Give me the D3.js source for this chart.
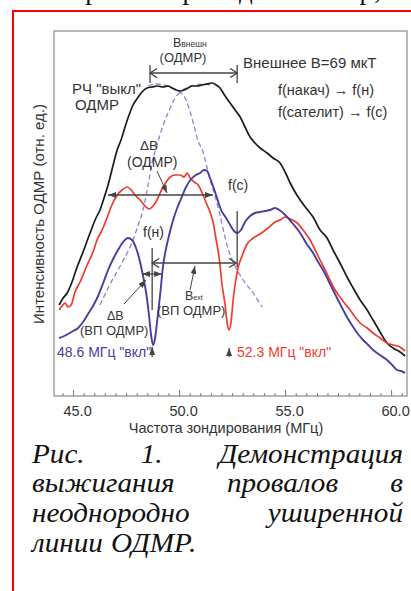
<!DOCTYPE html>
<html>
<head>
<meta charset="utf-8">
<script src="https://cdn.jsdelivr.net/npm/d3@7"></script>
<style>
body { margin: 0; background: #fff; }
svg { display: block; }
text { font-family: "Liberation Sans", Arial, sans-serif; }
.serif { font-family: "Liberation Serif", "Times New Roman", serif; }
</style>
</head>
<body>
<svg id="chart" width="411" height="591"></svg>
<script>
// values: frequency (MHz) and ODMR intensity (rel. units)
let offFreq = [44.34, 44.53, 44.72, 44.95, 45.19, 45.47, 45.80, 46.08, 46.27, 46.46, 46.65, 46.89, 47.08, 47.26, 47.45, 47.64, 47.83, 48.07, 48.25, 48.49, 48.73, 48.96, 49.25, 49.48, 49.67, 49.86, 50.05, 50.24, 50.42, 50.61, 50.85, 51.08, 51.32, 51.56, 51.75, 51.93, 52.17, 52.41, 52.64, 52.88, 53.11, 53.35, 53.58, 53.82, 54.15, 54.43, 54.76, 55.00, 55.24, 55.47, 55.71, 55.99, 56.32, 56.65, 56.98, 57.26, 57.59, 57.92, 58.21, 58.54, 58.87, 59.15, 59.48, 59.81, 60.09, 60.42, 60.66];
let offVal = [0.91, 0.98, 1.03, 1.14, 1.29, 1.44, 1.63, 1.78, 1.86, 1.98, 2.11, 2.31, 2.46, 2.56, 2.69, 2.81, 2.91, 2.99, 3.04, 3.08, 3.09, 3.10, 3.09, 3.10, 3.08, 3.06, 3.05, 3.06, 3.08, 3.10, 3.10, 3.11, 3.12, 3.13, 3.11, 3.08, 3.00, 2.93, 2.86, 2.79, 2.69, 2.59, 2.53, 2.48, 2.43, 2.38, 2.33, 2.24, 2.13, 2.04, 1.96, 1.88, 1.79, 1.66, 1.58, 1.46, 1.33, 1.19, 1.08, 0.96, 0.86, 0.76, 0.64, 0.53, 0.48, 0.44, 0.40];

let satFreq = [44.34, 44.48, 44.62, 44.76, 44.91, 45.09, 45.33, 45.66, 45.94, 46.13, 46.37, 46.60, 46.79, 47.08, 47.31, 47.55, 47.74, 47.92, 48.16, 48.40, 48.58, 48.77, 48.96, 49.15, 49.39, 49.58, 49.81, 50.05, 50.24, 50.38, 50.52, 50.71, 50.90, 51.13, 51.32, 51.46, 51.60, 51.75, 51.89, 52.03, 52.17, 52.26, 52.36, 52.45, 52.55, 52.64, 52.78, 52.97, 53.21, 53.44, 53.82, 54.20, 54.53, 54.76, 55.00, 55.24, 55.57, 55.85, 56.18, 56.42, 56.65, 56.89, 57.12, 57.36, 57.59, 57.83, 58.07, 58.30, 58.54, 58.87, 59.15, 59.48, 59.81, 60.09, 60.42, 60.66];
let satVal = [0.86, 0.90, 0.93, 0.89, 0.91, 1.04, 1.14, 1.31, 1.44, 1.56, 1.66, 1.78, 1.89, 2.01, 2.06, 2.09, 2.06, 2.01, 1.96, 1.90, 1.87, 1.90, 1.96, 2.05, 2.14, 2.19, 2.21, 2.21, 2.19, 2.23, 2.18, 2.14, 2.11, 2.01, 1.91, 1.84, 1.74, 1.56, 1.38, 1.11, 0.91, 0.74, 0.66, 0.74, 0.96, 1.11, 1.28, 1.40, 1.52, 1.57, 1.62, 1.68, 1.74, 1.76, 1.79, 1.77, 1.73, 1.66, 1.56, 1.46, 1.36, 1.26, 1.16, 1.06, 0.99, 0.92, 0.86, 0.79, 0.73, 0.68, 0.63, 0.58, 0.53, 0.51, 0.49, 0.45];

let pumpFreq = [44.34, 44.58, 44.76, 45.00, 45.24, 45.47, 45.71, 45.94, 46.18, 46.42, 46.65, 46.89, 47.12, 47.36, 47.59, 47.78, 47.97, 48.16, 48.30, 48.44, 48.58, 48.68, 48.77, 48.87, 48.96, 49.10, 49.25, 49.39, 49.53, 49.72, 49.91, 50.09, 50.33, 50.57, 50.80, 50.99, 51.18, 51.32, 51.46, 51.60, 51.79, 51.98, 52.22, 52.41, 52.59, 52.74, 52.92, 53.11, 53.35, 53.58, 53.82, 54.06, 54.29, 54.53, 54.72, 54.91, 55.14, 55.38, 55.71, 55.99, 56.32, 56.56, 56.79, 57.03, 57.26, 57.50, 57.74, 57.97, 58.21, 58.44, 58.68, 58.92, 59.15, 59.48, 59.81, 60.05, 60.28, 60.47, 60.66];
let pumpVal = [0.58, 0.60, 0.62, 0.65, 0.68, 0.74, 0.82, 0.90, 1.00, 1.13, 1.26, 1.37, 1.46, 1.54, 1.58, 1.56, 1.48, 1.34, 1.20, 1.04, 0.81, 0.61, 0.51, 0.58, 0.74, 1.00, 1.31, 1.48, 1.61, 1.76, 1.88, 1.97, 2.09, 2.17, 2.21, 2.23, 2.26, 2.25, 2.18, 2.10, 1.98, 1.86, 1.78, 1.71, 1.65, 1.63, 1.66, 1.74, 1.80, 1.83, 1.84, 1.85, 1.86, 1.88, 1.86, 1.83, 1.78, 1.72, 1.63, 1.53, 1.43, 1.34, 1.26, 1.16, 1.06, 0.96, 0.86, 0.77, 0.69, 0.62, 0.56, 0.51, 0.46, 0.41, 0.36, 0.31, 0.26, 0.25, 0.23];

// the two component lines (dashed)
let lineAFreq = [46.27, 46.75, 47.12, 47.55, 47.83, 48.07, 48.30, 48.54, 48.73, 48.96, 49.25, 49.58, 49.81, 50.05, 50.42, 50.80, 51.18, 51.56];
let lineAVal = [0.91, 1.12, 1.26, 1.43, 1.56, 1.71, 1.86, 2.11, 2.34, 2.51, 2.71, 2.88, 2.98, 3.04, 3.09, 3.11, 3.12, 3.10];
let lineBFreq = [48.54, 48.92, 49.29, 49.67, 50.05, 50.33, 50.52, 50.71, 50.85, 51.13, 51.46, 51.75, 51.93, 52.26, 52.55, 53.02, 53.49, 53.92];
let lineBVal = [3.10, 3.12, 3.11, 3.08, 3.04, 2.96, 2.84, 2.70, 2.58, 2.44, 2.16, 1.96, 1.81, 1.51, 1.34, 1.16, 1.03, 0.89];

let xTicks = [45, 50, 55, 60];
let xMinorTicks = [44.5, 45.5, 46, 46.5, 47, 47.5, 48, 48.5, 49, 49.5, 50.5, 51, 51.5, 52, 52.5, 53, 53.5, 54, 54.5, 55.5, 56, 56.5, 57, 57.5, 58, 58.5, 59, 59.5, 60.5];

let pumpMHz = 48.73;
let satMHz = 52.74;

let captionLines = [
    ["Рис.", "1.", "Демонстрация"],
    ["выжигания", "провалов", "в"],
    ["неоднородно", "уширенной"],
    ["линии", "ОДМР."]
];

let offColor = "#1b1b1b";
let satColor = "#ef3d2d";
let pumpColor = "#4b3c9e";
let dashColor = "#8a84d0";
let annColor = "#444";
let textColor = "#333";

let svg = d3.select('#chart');
let pad = {l: 54, r: 407, t: 31, b: 396};

let xScale = d3.scaleLinear().domain([44.1, 60.75]).range([pad.l, pad.r]);
let yScale = d3.scaleLinear().domain([0, 3.65]).range([pad.b, pad.t]);

// red page frame and clipped text line above it
svg.append('rect')
    .attr('x', 13).attr('y', 11)
    .attr('width', 430).attr('height', 620)
    .attr('fill', 'none')
    .attr('stroke', '#f00')
    .attr('stroke-width', 2);
svg.append('text')
    .attr('class', 'serif')
    .attr('x', 14).attr('y', -1)
    .attr('textLength', 388)
    .style('font-size', '27px')
    .style('fill', '#111')
    .text('ва на рис. 1 приведен спектр, а');

let defs = svg.append('defs');
defs.append('marker')
    .attr('id', 'head')
    .attr('markerUnits', 'userSpaceOnUse')
    .attr('markerWidth', 8).attr('markerHeight', 6)
    .attr('refX', 8).attr('refY', 3)
    .attr('orient', 'auto-start-reverse')
    .append('path').attr('d', 'M0,0L8,3L0,6Z').attr('fill', annColor);
defs.append('marker')
    .attr('id', 'chev')
    .attr('markerUnits', 'userSpaceOnUse')
    .attr('markerWidth', 10).attr('markerHeight', 12)
    .attr('refX', 8).attr('refY', 5)
    .attr('orient', 'auto-start-reverse')
    .append('path').attr('d', 'M1,0.5L8,5L1,9.5')
    .attr('fill', 'none').attr('stroke', annColor).attr('stroke-width', 1.4);

// frame
svg.append('rect')
    .attr('x', pad.l).attr('y', pad.t)
    .attr('width', pad.r - pad.l).attr('height', pad.b - pad.t)
    .attr('fill', 'none')
    .attr('stroke', '#8a8a8a')
    .attr('stroke-width', 1.2);

// x axis, ticks pointing inward
let xAxis = d3.axisBottom(xScale)
    .tickValues(xTicks)
    .tickFormat(d3.format('.1f'))
    .tickSizeInner(-6).tickSizeOuter(0).tickPadding(10);
let xAxisG = svg.append('g')
    .attr('transform', `translate(0, ${pad.b})`)
    .call(xAxis);
xAxisG.select('.domain').remove();
xAxisG.selectAll('line').attr('stroke', '#777');
xAxisG.selectAll('text')
    .attr('x', 4)
    .style('font-size', '14.5px')
    .style('font-family', '"Liberation Sans", Arial, sans-serif')
    .style('fill', textColor);

let xMinor = d3.axisBottom(xScale)
    .tickValues(xMinorTicks)
    .tickFormat('')
    .tickSizeInner(-3).tickSizeOuter(0);
let xMinorG = svg.append('g')
    .attr('transform', `translate(0, ${pad.b})`)
    .call(xMinor);
xMinorG.select('.domain').remove();
xMinorG.selectAll('line').attr('stroke', '#777');

svg.append('text')
    .attr('x', 226).attr('y', 433)
    .attr('text-anchor', 'middle')
    .style('font-size', '14.5px')
    .style('fill', textColor)
    .text('Частота зондирования (МГц)');
svg.append('text')
    .attr('transform', `translate(44, 214) rotate(270)`)
    .attr('text-anchor', 'middle')
    .style('font-size', '15px')
    .style('fill', textColor)
    .text('Интенсивность ОДМР (отн. ед.)');

// curves
let lineFun = d3.line()
    .x(d => xScale(d[0]))
    .y(d => yScale(d[1]))
    .curve(d3.curveMonotoneX);

let plotG = svg.append('g').attr('class', 'pathG');
function drawSeries(freq, vals, color, width, dash){
    plotG.append('path')
        .datum(d3.zip(freq, vals))
        .attr('fill', 'none')
        .attr('stroke', color)
        .attr('stroke-width', width)
        .attr('stroke-dasharray', dash)
        .attr('stroke-linejoin', 'round')
        .attr('d', lineFun);
}
drawSeries(lineAFreq, lineAVal, dashColor, 1.3, '5,3');
drawSeries(lineBFreq, lineBVal, dashColor, 1.3, '5,3');
drawSeries(offFreq, offVal, offColor, 1.7, null);
drawSeries(satFreq, satVal, satColor, 1.7, null);
drawSeries(pumpFreq, pumpVal, pumpColor, 1.9, null);

// annotation lines
let annG = svg.append('g').attr('class', 'annotations');
function seg(x1, y1, x2, y2){
    return annG.append('line')
        .attr('x1', x1).attr('y1', y1)
        .attr('x2', x2).attr('y2', y2)
        .attr('stroke', annColor)
        .attr('stroke-width', 1.3);
}
// B внешн (ОДМР)
seg(xScale(48.63), yScale(3.23), xScale(52.74), yScale(3.23))
    .attr('marker-start', 'url(#chev)').attr('marker-end', 'url(#chev)');
seg(xScale(48.63), yScale(3.31), xScale(48.63), yScale(3.13));
seg(xScale(52.74), yScale(3.31), xScale(52.74), yScale(3.13));
// ΔB (ОДМР)
seg(xScale(46.65), yScale(2.01), xScale(51.6), yScale(2.01))
    .attr('marker-start', 'url(#head)').attr('marker-end', 'url(#head)');
// f(н) and f(c) positions
seg(xScale(pumpMHz), yScale(1.48), xScale(pumpMHz), yScale(0.86));
seg(xScale(satMHz), yScale(1.85), xScale(satMHz), yScale(1.29));
// B ext (ВП ОДМР)
seg(xScale(pumpMHz), yScale(1.33), xScale(satMHz) - 1, yScale(1.33))
    .attr('marker-start', 'url(#chev)').attr('marker-end', 'url(#chev)');
// ΔB (ВП ОДМР)
seg(xScale(48.25), yScale(1.22), xScale(49.2), yScale(1.22))
    .attr('marker-start', 'url(#head)').attr('marker-end', 'url(#head)');
// pointers
seg(157, 171, 167, 193).attr('stroke-width', 1).attr('marker-end', 'url(#head)');
seg(190, 290, 195, 266).attr('stroke-width', 1).attr('marker-end', 'url(#head)');
seg(124, 304, 146, 280).attr('stroke-width', 1).attr('marker-end', 'url(#head)');
// "on" markers
seg(xScale(pumpMHz), 357, xScale(pumpMHz), 347).attr('stroke', '#222').attr('stroke-width', 1).attr('marker-end', 'url(#head)');
seg(xScale(52.36), 357, xScale(52.36), 348).attr('stroke', '#222').attr('stroke-width', 1).attr('marker-end', 'url(#head)');

// labels
function label(x, y, txt, size, color){
    return annG.append('text')
        .attr('x', x).attr('y', y)
        .style('font-size', size + 'px')
        .style('fill', color || textColor)
        .text(txt);
}
let bExt = label(173, 47, 'B', 12.5);
bExt.append('tspan').style('font-size', '8.5px').text('внешн');
label(183, 62, '(ОДМР)', 13).attr('text-anchor', 'middle');
label(243, 68, 'Внешнее B=69 мкТ', 15);
label(278, 95, 'f(накач) → f(н)', 14.5);
label(278, 117, 'f(сателит) → f(с)', 14.5);
label(72, 94, 'РЧ "выкл"', 15);
label(75, 110, 'ОДМР', 15);
label(140, 150, 'ΔB', 13.5);
label(127, 167, '(ОДМР)', 14);
label(228, 190, 'f(c)', 14);
label(143, 237, 'f(н)', 14);
label(107, 320, 'ΔB', 12.5);
label(80, 335, '(ВП ОДМР)', 13);
let bVp = label(185, 300, 'B', 12.5);
bVp.append('tspan').style('font-size', '7px').text('ext');
label(157, 315, '(ВП ОДМР)', 13);
label(57, 357, '48.6 МГц "вкл"', 14, pumpColor);
label(237, 357, '52.3 МГц "вкл"', 14, satColor);

// caption, justified; the source is stretched a little horizontally
let capLeft = 32, capRight = 403;
let capBase = [463, 492, 522, 552];
captionLines.forEach((words, li) => {
    let nodes = words.map(w => svg.append('text')
        .attr('class', 'serif')
        .attr('y', capBase[li])
        .style('font-size', '27px')
        .style('font-style', 'italic')
        .style('fill', '#111')
        .text(w));
    let widths = nodes.map(n => n.node().getComputedTextLength() * 1.08);
    nodes.forEach((n, i) => n.attr('textLength', widths[i]).attr('lengthAdjust', 'spacingAndGlyphs'));
    let last = li === captionLines.length - 1;
    let gap = last ? 8 : (capRight - capLeft - d3.sum(widths)) / (words.length - 1);
    let cx = capLeft;
    nodes.forEach((n, i) => {
        n.attr('x', cx);
        cx += widths[i] + gap;
    });
});
</script>
</body>
</html>
